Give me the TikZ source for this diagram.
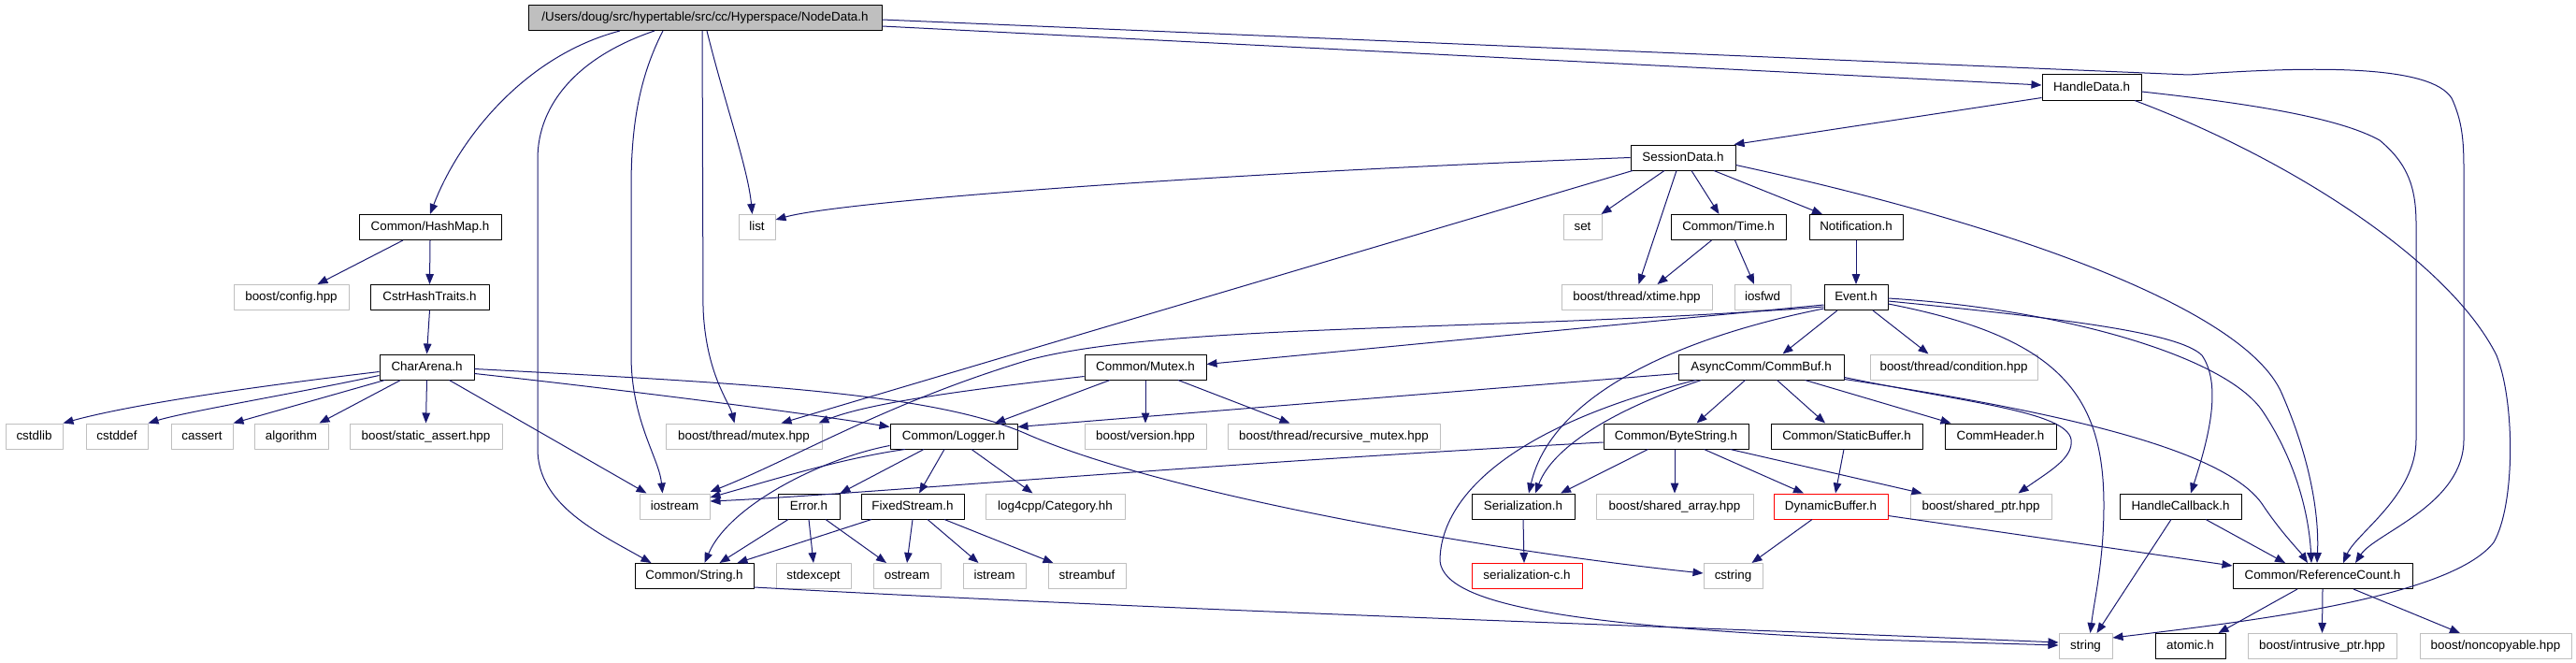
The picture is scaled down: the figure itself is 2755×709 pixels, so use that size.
\documentclass[tikz,border=0pt]{standalone}
\usepackage{fontspec}
\setmainfont{Liberation Sans}
\usetikzlibrary{arrows.meta}
\definecolor{navy}{HTML}{191970}
\definecolor{sysgray}{HTML}{BFBFBF}
\begin{document}
\begin{tikzpicture}[x=1pt,y=-1pt,line join=round,
  font=\fontsize{13.4}{16}\selectfont,
  box/.style={draw,line width=1pt,fill=white,minimum height=27pt,inner sep=0pt,text height=10pt,text depth=3pt},
  hdr/.style={box,draw=black},
  sys/.style={box,draw=sysgray},
  miss/.style={box,draw=red},
  top/.style={box,draw=black,fill=sysgray},
  dep/.style={draw=navy,line width=1pt,-{Triangle[length=11pt,width=8.5pt]}}]
\useasboundingbox (0,0) rectangle (2755,709);
% rows of headers
\node[top,minimum width=378pt] (root) at (754,19) {/Users/doug/src/hypertable/src/cc/Hyperspace/NodeData.h};
\node[hdr,minimum width=106pt] (hdata) at (2237,93.5) {HandleData.h};
\node[hdr,minimum width=112pt] (sdata) at (1800,168.5) {SessionData.h};
\node[hdr,minimum width=152pt] (hmap) at (460,243) {Common/HashMap.h};
\node[sys,minimum width=39pt] (lst) at (809.5,243) {list};
\node[sys,minimum width=41pt] (setn) at (1692.5,243) {set};
\node[hdr,minimum width=123pt] (ctime) at (1848.5,243) {Common/Time.h};
\node[hdr,minimum width=100pt] (notif) at (1985,243) {Notification.h};
\node[sys,minimum width=123pt] (bcfg) at (311.5,318) {boost/config.hpp};
\node[hdr,minimum width=127pt] (cstrht) at (459.5,318) {CstrHashTraits.h};
\node[sys,minimum width=161pt] (xtime) at (1750.5,318) {boost/thread/xtime.hpp};
\node[sys,minimum width=60pt] (iosfwd) at (1885,318) {iosfwd};
\node[hdr,minimum width=68pt] (event) at (1985,318) {Event.h};
\node[hdr,minimum width=101pt] (arena) at (456.5,392.5) {CharArena.h};
\node[hdr,minimum width=130pt] (mutex) at (1225,392.5) {Common/Mutex.h};
\node[hdr,minimum width=177pt] (commbuf) at (1883.5,392.5) {AsyncComm/CommBuf.h};
\node[sys,minimum width=179pt] (cond) at (2089.5,392.5) {boost/thread/condition.hpp};
\node[sys,minimum width=61pt] (cstdlib) at (36.5,466.5) {cstdlib};
\node[sys,minimum width=66pt] (cstddef) at (125,466.5) {cstddef};
\node[sys,minimum width=66pt] (cassert) at (216,466.5) {cassert};
\node[sys,minimum width=79pt] (algo) at (311.5,466.5) {algorithm};
\node[sys,minimum width=163pt] (sassert) at (455.5,466.5) {boost/static\_assert.hpp};
\node[sys,minimum width=167pt] (bmutex) at (795.5,466.5) {boost/thread/mutex.hpp};
\node[hdr,minimum width=136pt] (logger) at (1020,466.5) {Common/Logger.h};
\node[sys,minimum width=130pt] (bver) at (1225,466.5) {boost/version.hpp};
\node[sys,minimum width=227pt] (brmutex) at (1426.5,466.5) {boost/thread/recursive\_mutex.hpp};
\node[hdr,minimum width=155pt] (bytestr) at (1792.5,466.5) {Common/ByteString.h};
\node[hdr,minimum width=162pt] (statbuf) at (1975,466.5) {Common/StaticBuffer.h};
\node[hdr,minimum width=119pt] (commhdr) at (2139.5,466.5) {CommHeader.h};
\node[sys,minimum width=75pt] (iostr) at (721.5,541.5) {iostream};
\node[hdr,minimum width=66pt] (err) at (865,541.5) {Error.h};
\node[hdr,minimum width=110pt] (fstream) at (976,541.5) {FixedStream.h};
\node[sys,minimum width=149pt] (l4c) at (1128.5,541.5) {log4cpp/Category.hh};
\node[hdr,minimum width=110pt] (serial) at (1629,541.5) {Serialization.h};
\node[sys,minimum width=168pt] (sarray) at (1791,541.5) {boost/shared\_array.hpp};
\node[miss,minimum width=122pt] (dynbuf) at (1958,541.5) {DynamicBuffer.h};
\node[sys,minimum width=151pt] (sptr) at (2118.5,541.5) {boost/shared\_ptr.hpp};
\node[hdr,minimum width=130pt] (hcb) at (2332,541.5) {HandleCallback.h};
\node[hdr,minimum width=127pt] (cstr) at (742.5,616) {Common/String.h};
\node[sys,minimum width=80pt] (stdexc) at (870,616) {stdexcept};
\node[sys,minimum width=72pt] (ostr) at (970,616) {ostream};
\node[sys,minimum width=67pt] (istr) at (1063.5,616) {istream};
\node[sys,minimum width=83pt] (sbuf) at (1162.5,616) {streambuf};
\node[miss,minimum width=118pt] (serc) at (1633,616) {serialization-c.h};
\node[sys,minimum width=63pt] (cstring) at (1853.5,616) {cstring};
\node[hdr,minimum width=192pt] (refcnt) at (2484,616) {Common/ReferenceCount.h};
\node[sys,minimum width=57pt] (string) at (2230.5,691) {string};
\node[hdr,minimum width=75pt] (atomic) at (2342.5,691) {atomic.h};
\node[sys,minimum width=159pt] (iptr) at (2483.5,691) {boost/intrusive\_ptr.hpp};
\node[sys,minimum width=162pt] (noncopy) at (2669,691) {boost/noncopyable.hpp};
% NodeData.h
\draw[dep] ([xshift=-91pt]root.south) .. controls (560,60) and (490,150) .. (hmap.north);
\draw[dep] ([xshift=-54pt]root.south) .. controls (620,60) and (575,110) .. (575,170) -- (575,480) .. controls (575,540) and (640,570) .. ([xshift=-46pt]cstr.north);
\draw[dep] ([xshift=-45pt]root.south) .. controls (685,80) and (675,130) .. (675,200) -- (675,380) .. controls (675,450) and (705,490) .. ([xshift=-13pt]iostr.north);
\draw[dep] ([xshift=-3pt]root.south) -- (752,330) .. controls (755,400) and (780,430) .. ([xshift=-10pt]bmutex.north);
\draw[dep] ([xshift=2pt]root.south) .. controls (775,110) and (800,180) .. ([xshift=-5pt]lst.north);
\draw[dep] ([yshift=-9pt]root.east) -- ([yshift=2.5pt]hdata.west);
\draw[dep] ([yshift=-2pt]root.east) -- (2341,80) .. controls (2480,70) and (2600,70) .. (2622,105) .. controls (2636,135) and (2635,160) .. (2635,200) -- (2635,470) .. controls (2635,540) and (2540,570) .. ([xshift=35pt]refcnt.north);
% HandleData.h, SessionData.h
\draw[dep] ([yshift=-11pt]hdata.west) -- ([xshift=-2pt]sdata.north east);
\draw[dep] ([yshift=-4.5pt]hdata.east) .. controls (2400,110) and (2500,125) .. (2545,150) .. controls (2575,175) and (2584,200) .. (2584,240) -- (2584,470) .. controls (2584,530) and (2520,570) .. ([xshift=22pt]refcnt.north);
\draw[dep] ([xshift=46pt]hdata.south) .. controls (2450,170) and (2620,280) .. (2670,380) .. controls (2690,430) and (2690,540) .. (2667,580) .. controls (2620,640) and (2400,665) .. ([yshift=9pt]string.east);
\draw[dep] (sdata.west) .. controls (1300,185) and (900,215) .. ([yshift=8pt]lst.east);
\draw[dep] ([xshift=-54pt]sdata.south) -- ([xshift=40pt]bmutex.north);
\draw[dep] ([xshift=-20pt]sdata.south) -- ([xshift=20pt]setn.north);
\draw[dep] ([xshift=-7pt]sdata.south) -- ([xshift=2pt]xtime.north);
\draw[dep] ([xshift=9pt]sdata.south) -- ([xshift=-10pt]ctime.north);
\draw[dep] ([xshift=33pt]sdata.south) -- ([xshift=-36pt]notif.north);
\draw[dep] ([yshift=-8pt]sdata.east) .. controls (2150,240) and (2400,330) .. (2440,420) .. controls (2475,500) and (2480,560) .. ([xshift=-6pt]refcnt.north);
\draw[dep] ([xshift=-18pt]ctime.south) -- ([xshift=22pt]xtime.north);
\draw[dep] ([xshift=7pt]ctime.south) -- ([xshift=-9pt]iosfwd.north);
\draw[dep] (notif.south) -- (event.north);
% HashMap.h, CharArena.h
\draw[dep] ([xshift=-29pt]hmap.south) -- ([xshift=28pt]bcfg.north);
\draw[dep] (hmap.south) -- (cstrht.north);
\draw[dep] (cstrht.south) -- (arena.north);
\draw[dep] ([yshift=-5pt]arena.west) .. controls (300,410) and (150,430) .. (cstdlib.north east);
\draw[dep] ([yshift=-9pt]arena.west) .. controls (320,420) and (200,440) .. (cstddef.north east);
\draw[dep] ([xshift=-45pt]arena.south) -- (cassert.north east);
\draw[dep] ([xshift=-28pt]arena.south) -- ([xshift=30pt]algo.north);
\draw[dep] (arena.south) -- (sassert.north);
\draw[dep] ([xshift=24pt]arena.south) -- ([xshift=-30pt]iostr.north);
\draw[dep] ([yshift=-7pt]arena.east) .. controls (650,415) and (850,440) .. ([yshift=-4pt]logger.north west);
\draw[dep] ([yshift=-2pt]arena.east) .. controls (800,410) and (1000,420) .. (1100,465) .. controls (1250,530) and (1600,590) .. ([yshift=3pt]cstring.west);
% Mutex.h, Logger.h
\draw[dep] ([yshift=-10pt]mutex.west) .. controls (1050,415) and (930,430) .. ([xshift=80pt]bmutex.north);
\draw[dep] ([xshift=-38pt]mutex.south) -- ([xshift=44pt]logger.north);
\draw[dep] (mutex.south) -- (bver.north);
\draw[dep] ([xshift=35pt]mutex.south) -- ([xshift=-47pt]brmutex.north);
\draw[dep] ([xshift=-52pt]logger.south) .. controls (900,490) and (820,515) .. ([yshift=9.5pt]iostr.east);
\draw[dep] ([yshift=-10pt]logger.west) .. controls (880,490) and (780,540) .. ([xshift=11pt]cstr.north);
\draw[dep] ([xshift=-32pt]logger.south) -- (err.north east);
\draw[dep] ([xshift=-10pt]logger.south) -- ([xshift=7pt]fstream.north);
\draw[dep] ([xshift=19pt]logger.south) -- ([xshift=-24pt]l4c.north);
\draw[dep] ([xshift=-22pt]err.south) -- ([xshift=27pt]cstr.north);
\draw[dep] (err.south) -- (stdexc.north);
\draw[dep] ([xshift=18pt]err.south) -- ([xshift=-22pt]ostr.north);
\draw[dep] ([xshift=-44pt]fstream.south) -- ([xshift=46pt]cstr.north);
\draw[dep] (fstream.south) -- (ostr.north);
\draw[dep] ([xshift=16pt]fstream.south) -- ([xshift=-17pt]istr.north);
\draw[dep] ([xshift=34pt]fstream.south) -- ([xshift=-36pt]sbuf.north);
\draw[dep] ([yshift=-12pt]cstr.east) .. controls (1300,655) and (1800,670) .. ([yshift=4pt]string.west);
% Event.h
\draw[dep] ([yshift=-8pt]event.west) -- ([yshift=3pt]mutex.east);
\draw[dep] ([yshift=-10pt]event.west) .. controls (1600,355) and (1250,345) .. (1100,385) .. controls (950,430) and (850,490) .. ([yshift=15.5pt]iostr.east);
\draw[dep] ([yshift=-12pt]event.west) .. controls (1800,360) and (1660,420) .. ([xshift=6pt]serial.north);
\draw[dep] ([xshift=-20pt]event.south) -- ([xshift=23pt]commbuf.north);
\draw[dep] ([xshift=18pt]event.south) -- ([xshift=-27pt]cond.north);
\draw[dep] ([yshift=-7pt]event.east) .. controls (2200,360) and (2250,420) .. (2250,540) .. controls (2250,600) and (2240,640) .. ([xshift=5pt]string.north);
\draw[dep] ([yshift=-4pt]event.east) .. controls (2200,340) and (2330,355) .. (2355,380) .. controls (2375,410) and (2365,460) .. ([xshift=11pt]hcb.north);
\draw[dep] ([yshift=-1pt]event.east) .. controls (2200,330) and (2380,380) .. (2420,440) .. controls (2460,500) and (2470,560) .. ([xshift=-12pt]refcnt.north);
% CommBuf.h
\draw[dep] ([yshift=-7pt]commbuf.west) -- ([yshift=10pt]logger.east);
\draw[dep] ([xshift=-64pt]commbuf.south) .. controls (1720,440) and (1660,480) .. ([xshift=13pt]serial.north);
\draw[dep] ([xshift=-70pt]commbuf.south) .. controls (1600,460) and (1540,540) .. (1540,600) .. controls (1545,650) and (1700,670) .. (2000,684) -- ([yshift=1pt]string.west);
\draw[dep] ([xshift=-17pt]commbuf.south) -- ([xshift=22pt]bytestr.north);
\draw[dep] ([xshift=17pt]commbuf.south) -- ([xshift=-23pt]statbuf.north);
\draw[dep] ([xshift=47pt]commbuf.south) -- ([xshift=-53pt]commhdr.north);
\draw[dep] ([yshift=-11pt]commbuf.east) .. controls (2100,430) and (2210,440) .. (2215,470) .. controls (2218,490) and (2190,505) .. ([xshift=40pt]sptr.north);
\draw[dep] ([yshift=-13pt]commbuf.east) .. controls (2200,440) and (2380,480) .. (2420,540) .. controls (2440,570) and (2460,590) .. ([xshift=-16pt]refcnt.north);
% ByteString.h and below
\draw[dep] ([yshift=-6.5pt]bytestr.west) .. controls (1300,495) and (900,530) .. ([yshift=5.5pt]iostr.east);
\draw[dep] ([xshift=-30pt]bytestr.south) -- ([xshift=40pt]serial.north);
\draw[dep] ([xshift=-1.5pt]bytestr.south) -- (sarray.north);
\draw[dep] ([xshift=30pt]bytestr.south) -- ([xshift=-29pt]dynbuf.north);
\draw[dep] ([xshift=58pt]bytestr.south) -- ([xshift=-63pt]sptr.north);
\draw[dep] ([xshift=-3pt]statbuf.south) -- ([xshift=5pt]dynbuf.north);
\draw[dep] ([xshift=-20pt]dynbuf.south) -- ([xshift=20pt]cstring.north);
\draw[dep] ([yshift=-10pt]dynbuf.east) -- ([yshift=11pt]refcnt.west);
\draw[dep] (serial.south) -- ([xshift=-3pt]serc.north);
\draw[dep] ([xshift=-10pt]hcb.south) -- ([xshift=12pt]string.north);
\draw[dep] ([xshift=27pt]hcb.south) -- ([xshift=-40pt]refcnt.north);
\draw[dep] ([xshift=-27pt]refcnt.south) -- ([xshift=30pt]atomic.north);
\draw[dep] (refcnt.south) -- (iptr.north);
\draw[dep] ([xshift=33pt]refcnt.south) -- ([xshift=-38pt]noncopy.north);
\end{tikzpicture}
\end{document}
